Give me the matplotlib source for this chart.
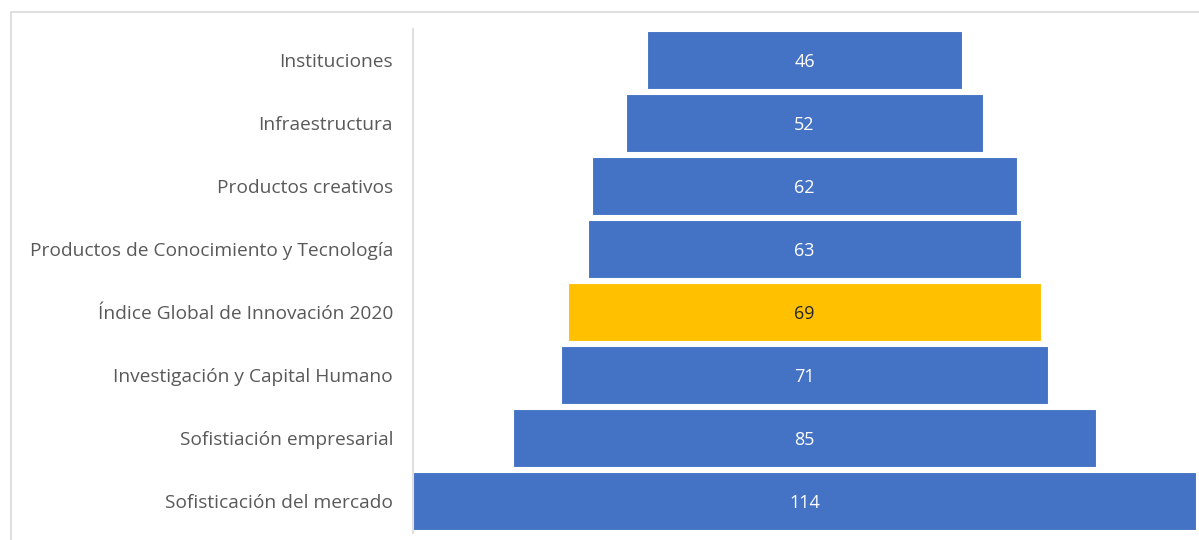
import matplotlib
import matplotlib.pyplot as plt
from matplotlib.patches import Rectangle

matplotlib.use('Agg')

# funnel rows, top to bottom
categories = [
    "Instituciones",
    "Infraestructura",
    "Productos creativos",
    "Productos de Conocimiento y Tecnología",
    "Índice Global de Innovación 2020",
    "Investigación y Capital Humano",
    "Sofistiación empresarial",
    "Sofisticación del mercado",
]
values = [46, 52, 62, 63, 69, 71, 85, 114]
highlight = "Índice Global de Innovación 2020"

BLUE = "#4472C4"
GOLD = "#FFC000"
GREY_TEXT = "#595959"

plt.rcParams['font.family'] = ['Open Sans', 'DejaVu Sans']

fig = plt.figure(figsize=(11.99, 5.40), dpi=100)
fig.patches.append(Rectangle((11 / 1199, -0.1), 1.2, 1.1 - 12 / 540,
                             transform=fig.transFigure, fill=False,
                             edgecolor="#D9D9D9", linewidth=1.2))

ax = fig.add_axes([413 / 1199, 1 - 532.5 / 540, 783 / 1199, 504 / 540])

ypos = list(range(len(categories)))
colors = [GOLD if c == highlight else BLUE for c in categories]
ax.barh(ypos, values, left=[-v / 2 for v in values], height=0.905,
        color=colors, edgecolor="white", linewidth=0.8)

for y, v, c in zip(ypos, values, categories):
    txt_color = "#262626" if c == highlight else "white"
    ax.text(0, y + 0.03, str(v), ha="center", va="center", color=txt_color,
            fontsize=13)

ax.set_xlim(-max(values) / 2, max(values) / 2)
ax.set_ylim(len(categories) - 0.5, -0.5)
ax.set_yticks(ypos)
ax.set_yticklabels(categories, color=GREY_TEXT, fontsize=13.8)
ax.tick_params(axis="y", length=0, pad=14.4)
ax.set_xticks([])

for side in ["top", "right", "bottom"]:
    ax.spines[side].set_visible(False)
ax.spines["left"].set_color("#D9D9D9")
ax.spines["left"].set_linewidth(1.2)

fig.savefig("out.png", dpi=100)
